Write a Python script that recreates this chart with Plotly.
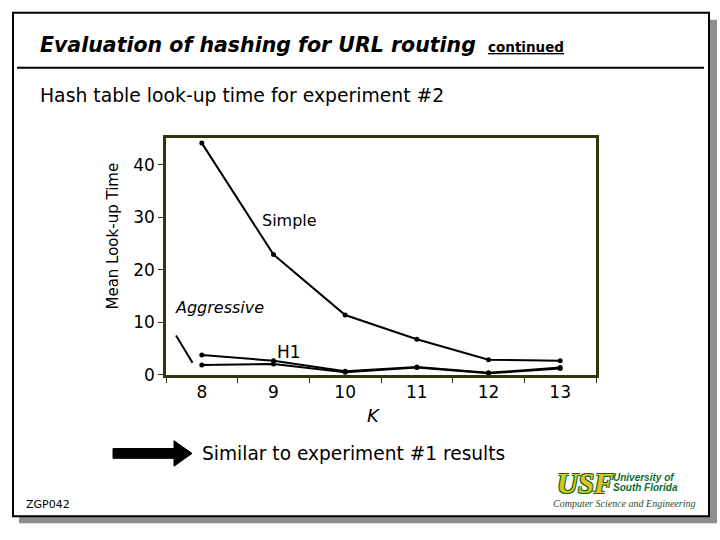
import plotly.graph_objects as go

# ---- data ----
k_values = [8, 9, 10, 11, 12, 13]
simple = [44.1, 22.9, 11.4, 6.8, 2.9, 2.7]
h1 = [3.8, 2.7, 0.7, 1.5, 0.4, 1.4]
aggressive = [1.9, 2.1, 0.5, 1.4, 0.3, 1.2]
y_ticks = [0, 10, 20, 30, 40]
x_tick_text = ["8", "9", "10", "11", "12", "13"]

W, H = 720, 540
def px(x):
    return x / W
def py(y):
    return 1 - y / H

FONT = "DejaVu Sans"
fig = go.Figure()
for name, vals in [("Simple", simple), ("H1", h1), ("Aggressive", aggressive)]:
    fig.add_trace(go.Scatter(
        x=k_values, y=vals, mode="lines+markers", name=name,
        line=dict(color="black", width=2),
        marker=dict(color="black", size=5),
        showlegend=False, cliponaxis=False))

shapes = [
    # slide shadow
    dict(type="rect", xref="paper", yref="paper", x0=px(19), x1=px(717), y0=py(533), y1=py(20),
         fillcolor="#8e8e8e", line=dict(width=0), layer="below"),
    # slide
    dict(type="rect", xref="paper", yref="paper", x0=px(13), x1=px(709), y0=py(526), y1=py(13),
         fillcolor="white", line=dict(color="black", width=2), layer="below"),
    # title rule
    dict(type="line", xref="paper", yref="paper", x0=px(17), x1=px(704), y0=py(69), y1=py(69),
         line=dict(color="black", width=2)),
    # pointer to the Aggressive line
    dict(type="line", xref="x", yref="y", x0=7.64, y0=7.5, x1=7.87, y1=2.3,
         line=dict(color="black", width=2)),
    # block arrow
    dict(type="path", xref="paper", yref="paper",
         path=f"M {px(113)} {py(457)} L {px(174)} {py(457)} L {px(174)} {py(449)} "
              f"L {px(192)} {py(462)} L {px(174)} {py(475)} L {px(174)} {py(467)} "
              f"L {px(113)} {py(467)} Z",
         fillcolor="black", line=dict(color="black", width=1)),
]

ann = []
def text(x, y, s, size, xanchor="left", color="black", family=FONT, **kw):
    font = dict(size=size, color=color, family=family)
    font.update(kw.pop("font_extra", {}))
    ann.append(dict(x=px(x), y=py(y), xref="paper", yref="paper", text=s, showarrow=False,
                    xanchor=xanchor, yanchor="middle", font=font, **kw))

text(38, 46, "<b><i>Evaluation of hashing for URL routing</i></b>", 20.5)
text(486, 48, "<b><u>continued</u></b>", 13.5)
text(38, 97, "Hash table look-up time for experiment #2", 18.8)
text(113, 241, "Mean Look-up Time", 15, xanchor="center", textangle=-90)
text(373, 423, "<i>K</i>", 18, xanchor="center")
text(200, 462, "Similar to experiment #1 results", 18.6)
text(24, 514, "ZGP042", 11)
# logo
G = "#0b6b2e"
text(555, 492, "<b><i>USF</i></b>", 29, color="#e0c41c", family="Liberation Serif",
     font_extra=dict(shadow=f"1px 1px 0 {G}, -1px -1px 0 {G}, 1px -1px 0 {G}, -1px 1px 0 {G}"))
text(611, 486, "<b><i>University of</i></b>", 10, color=G, family="Liberation Sans")
text(611, 497, "<b><i>South Florida</i></b>", 10, color=G, family="Liberation Sans")
text(624, 513, "<i>Computer Science and Engineering</i>", 10, xanchor="center",
     color="#1f4f2a", family="Liberation Serif")

# in-plot labels (data coordinates)
for xv, yv, s, size in [(9.23, 29.3, "Simple", 16), (8.25, 12.9, "<i>Aggressive</i>", 16),
                        (9.22, 4.3, "H1", 17)]:
    ann.append(dict(x=xv, y=yv, xref="x", yref="y", text=s, showarrow=False,
                    xanchor="center", yanchor="middle", font=dict(size=size, family=FONT, color="black")))

fig.update_layout(
    width=W, height=H, margin=dict(l=0, r=0, t=0, b=0),
    paper_bgcolor="white", plot_bgcolor="white",
    shapes=shapes, annotations=ann,
    xaxis=dict(domain=[px(166), px(596)], range=[7.5, 13.5], tickvals=k_values, ticktext=x_tick_text,
               ticks="", showgrid=False, zeroline=False,
               showline=True, mirror=True, linecolor="#33330f", linewidth=2.5,
               tickfont=dict(size=17, family=FONT, color="black"),
               minor=dict(tickvals=[7.5, 8.5, 9.5, 10.5, 11.5, 12.5, 13.5], ticks="outside",
                          ticklen=5, tickcolor="#33330f", tickwidth=1, showgrid=False)),
    yaxis=dict(domain=[py(382), py(141)], range=[0, 45], tickvals=y_ticks,
               ticks="outside", ticklen=5, tickcolor="#33330f", showgrid=False, zeroline=False,
               showline=True, mirror=True, linecolor="#33330f", linewidth=2.5,
               tickfont=dict(size=17, family=FONT, color="black")),
)

post = ("var d=document.getElementById('{plot_id}');"
        "d.style.position='fixed';d.style.left='0px';d.style.top='0px';"
        "document.body.style.margin='0';document.body.style.height='540px';"
        "document.body.style.overflow='hidden';document.documentElement.style.overflow='hidden';")
fig.write_html("out.html", config={"displayModeBar": False}, post_script=post)
